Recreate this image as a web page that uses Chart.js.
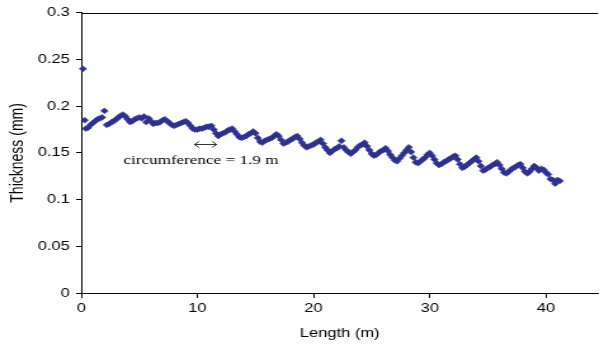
<!DOCTYPE html>
<html>
<head>
<meta charset="utf-8">
<script src="https://cdn.jsdelivr.net/npm/chart.js@4.4.0/dist/chart.umd.min.js"></script>
<style>
  html, body { margin: 0; padding: 0; background: #fff; overflow: hidden; }
  #wrap { width: 604px; height: 348px; overflow: hidden; }
  /* el original viene estirado en horizontal, lo imitamos con scaleX */
  #grafica { transform: scaleX(1.2689); transform-origin: 0 0; }
</style>
</head>
<body>
<div id="wrap"><canvas id="grafica" width="476" height="348"></canvas></div>
<script>
// Datos
const longitudes = [
  0.15, 0.3, 0.4, 0.6, 0.8, 1, 1.2, 1.4, 1.6, 1.8,
  2, 2.2, 2.4, 2.6, 2.8, 3, 3.2, 3.4, 3.6, 3.8,
  4, 4.2, 4.4, 4.6, 4.8, 5, 5.2, 5.4, 5.6, 5.8,
  6, 6.2, 6.4, 6.6, 6.8, 7, 7.2, 7.4, 7.6, 7.8,
  8, 8.2, 8.4, 8.6, 8.8, 9, 9.2, 9.4, 9.6, 9.8,
  10, 10.2, 10.4, 10.6, 10.8, 11, 11.2, 11.4, 11.6, 11.8,
  12, 12.2, 12.4, 12.6, 12.8, 13, 13.2, 13.4, 13.6, 13.8,
  14, 14.2, 14.4, 14.6, 14.8, 15, 15.2, 15.4, 15.6, 15.8,
  16, 16.2, 16.4, 16.6, 16.8, 17, 17.2, 17.4, 17.6, 17.8,
  18, 18.2, 18.4, 18.6, 18.8, 19, 19.2, 19.4, 19.6, 19.8,
  20, 20.2, 20.4, 20.6, 20.8, 21, 21.2, 21.4, 21.6, 21.8,
  22, 22.2, 22.4, 22.6, 22.8, 23, 23.2, 23.4, 23.6, 23.8,
  24, 24.2, 24.4, 24.6, 24.8, 25, 25.2, 25.4, 25.6, 25.8,
  26, 26.2, 26.4, 26.6, 26.8, 27, 27.2, 27.4, 27.6, 27.8,
  28, 28.2, 28.4, 28.6, 28.8, 29, 29.2, 29.4, 29.6, 29.8,
  30, 30.2, 30.4, 30.6, 30.8, 31, 31.2, 31.4, 31.6, 31.8,
  32, 32.2, 32.4, 32.6, 32.8, 33, 33.2, 33.4, 33.6, 33.8,
  34, 34.2, 34.4, 34.6, 34.8, 35, 35.2, 35.4, 35.6, 35.8,
  36, 36.2, 36.4, 36.6, 36.8, 37, 37.2, 37.4, 37.6, 37.8,
  38, 38.2, 38.4, 38.6, 38.8, 39, 39.2, 39.4, 39.6, 39.8,
  40, 40.2, 40.4, 40.6, 40.8, 41, 41.2
];

const espesores = [
  0.240, 0.185, 0.176, 0.177, 0.180, 0.182, 0.184, 0.186, 0.187, 0.188,
  0.195, 0.180, 0.181, 0.183, 0.184, 0.186, 0.188, 0.190, 0.191, 0.189,
  0.186, 0.183, 0.184, 0.186, 0.187, 0.188, 0.187, 0.189, 0.183, 0.187,
  0.184, 0.181, 0.182, 0.182, 0.183, 0.185, 0.186, 0.184, 0.182, 0.180,
  0.179, 0.180, 0.181, 0.182, 0.183, 0.184, 0.182, 0.179, 0.176, 0.175,
  0.175, 0.176, 0.176, 0.177, 0.178, 0.178, 0.179, 0.175, 0.171, 0.168,
  0.170, 0.171, 0.172, 0.174, 0.175, 0.176, 0.173, 0.170, 0.167, 0.166,
  0.167, 0.168, 0.170, 0.171, 0.173, 0.171, 0.166, 0.162, 0.161, 0.163,
  0.164, 0.165, 0.166, 0.168, 0.170, 0.168, 0.164, 0.160, 0.161, 0.162,
  0.164, 0.165, 0.167, 0.168, 0.165, 0.161, 0.158, 0.156, 0.157, 0.158,
  0.159, 0.161, 0.162, 0.164, 0.160, 0.156, 0.153, 0.150, 0.152, 0.154,
  0.155, 0.157, 0.163, 0.156, 0.153, 0.151, 0.149, 0.151, 0.153, 0.156,
  0.158, 0.159, 0.161, 0.157, 0.153, 0.149, 0.147, 0.148, 0.150, 0.152,
  0.153, 0.155, 0.152, 0.148, 0.145, 0.142, 0.141, 0.144, 0.147, 0.150,
  0.153, 0.156, 0.151, 0.145, 0.140, 0.139, 0.141, 0.143, 0.145, 0.148,
  0.150, 0.147, 0.143, 0.139, 0.137, 0.138, 0.140, 0.141, 0.143, 0.144,
  0.146, 0.147, 0.143, 0.138, 0.134, 0.135, 0.137, 0.139, 0.141, 0.143,
  0.145, 0.141, 0.136, 0.131, 0.132, 0.134, 0.135, 0.137, 0.138, 0.140,
  0.137, 0.133, 0.129, 0.128, 0.130, 0.132, 0.134, 0.135, 0.137, 0.138,
  0.134, 0.130, 0.128, 0.130, 0.133, 0.136, 0.134, 0.131, 0.133, 0.132,
  0.129, 0.127, 0.122, 0.121, 0.117, 0.121, 0.120
];

const etiquetasX = ['0', '10', '20', '30', '40'];
const etiquetasY = ['0', '0.05', '0.1', '0.15', '0.2', '0.25', '0.3'];

// Anotacion: flecha doble de una circunferencia (1.9 m)
const flechaDesde = 9.75;
const flechaHasta = 11.65;
const flechaY = 0.1596;
const textoAnotacion = 'circumference = 1.9 m';
const textoX = 10.3;
const textoY = 0.1415;

const AZUL = '#2f3192';
const FUENTE = "'Liberation Sans', Arial, sans-serif";

// Linea superior del marco + anotacion
const marcoYAnotacion = {
  id: 'marcoYAnotacion',
  afterDraw(chart) {
    const c = chart.ctx;
    const area = chart.chartArea;
    const sx = chart.scales.x;
    const sy = chart.scales.y;

    c.save();
    c.strokeStyle = '#000';
    c.lineWidth = 1;
    c.beginPath();
    c.moveTo(area.left, Math.round(area.top) + 0.5);
    c.lineTo(area.right, Math.round(area.top) + 0.5);
    c.stroke();

    // flecha
    const x1 = sx.getPixelForValue(flechaDesde);
    const x2 = sx.getPixelForValue(flechaHasta);
    const y = Math.round(sy.getPixelForValue(flechaY)) + 0.5;
    c.lineWidth = 0.8;
    c.beginPath();
    c.moveTo(x1, y); c.lineTo(x2, y);
    c.moveTo(x1 + 3.5, y - 3); c.lineTo(x1, y); c.lineTo(x1 + 3.5, y + 3);
    c.moveTo(x2 - 3.5, y - 3); c.lineTo(x2, y); c.lineTo(x2 - 3.5, y + 3);
    c.stroke();

    // texto
    c.fillStyle = '#000';
    c.font = "13.5px 'Liberation Serif', 'Times New Roman', serif";
    c.textAlign = 'center';
    c.textBaseline = 'middle';
    c.fillText(textoAnotacion, sx.getPixelForValue(textoX), sy.getPixelForValue(textoY));
    c.restore();
  }
};

const ctx = document.getElementById('grafica').getContext('2d');
const grafica = new Chart(ctx, {
  type: 'scatter',
  data: {
    datasets: [{
      label: 'Thickness',
      data: longitudes.map((x, i) => ({ x: x, y: espesores[i] })),
      pointStyle: 'rectRot',
      pointRadius: 2.9,
      pointBorderWidth: 0.6,
      backgroundColor: AZUL,
      borderColor: AZUL,
      clip: false
    }]
  },
  options: {
    responsive: false,
    animation: false,
    layout: { padding: { top: 11, right: 0, left: 0, bottom: 0 } },
    plugins: {
      legend: { display: false },
      tooltip: { enabled: false }
    },
    scales: {
      x: {
        type: 'linear',
        min: 0,
        max: 44.5,
        afterFit: (s) => { s.height = 55; },
        border: { display: true, color: '#000', width: 1 },
        grid: { drawOnChartArea: false, drawTicks: true, tickLength: 5, color: '#000' },
        ticks: {
          stepSize: 10,
          includeBounds: false,
          padding: 3,
          color: '#000',
          font: { family: FUENTE, size: 13 },
          callback: (v) => etiquetasX[Math.round(v / 10)]
        },
        title: {
          display: true,
          text: 'Length (m)',
          color: '#000',
          font: { family: FUENTE, size: 13 },
          padding: { top: 0, bottom: 7 }
        }
      },
      y: {
        min: 0,
        max: 0.3,
        afterFit: (s) => { s.width = 64; },
        border: { display: true, color: '#000', width: 1 },
        grid: { drawOnChartArea: false, drawTicks: true, tickLength: 4, color: '#000' },
        ticks: {
          stepSize: 0.05,
          padding: 5,
          color: '#000',
          font: { family: FUENTE, size: 13 },
          callback: (v) => etiquetasY[Math.round(v / 0.05)]
        },
        title: {
          display: true,
          text: 'Thickness (mm)',
          color: '#000',
          font: { family: FUENTE, size: 14 },
          padding: { top: 6, bottom: 0 }
        }
      }
    }
  },
  plugins: [marcoYAnotacion]
});
</script>
</body>
</html>
